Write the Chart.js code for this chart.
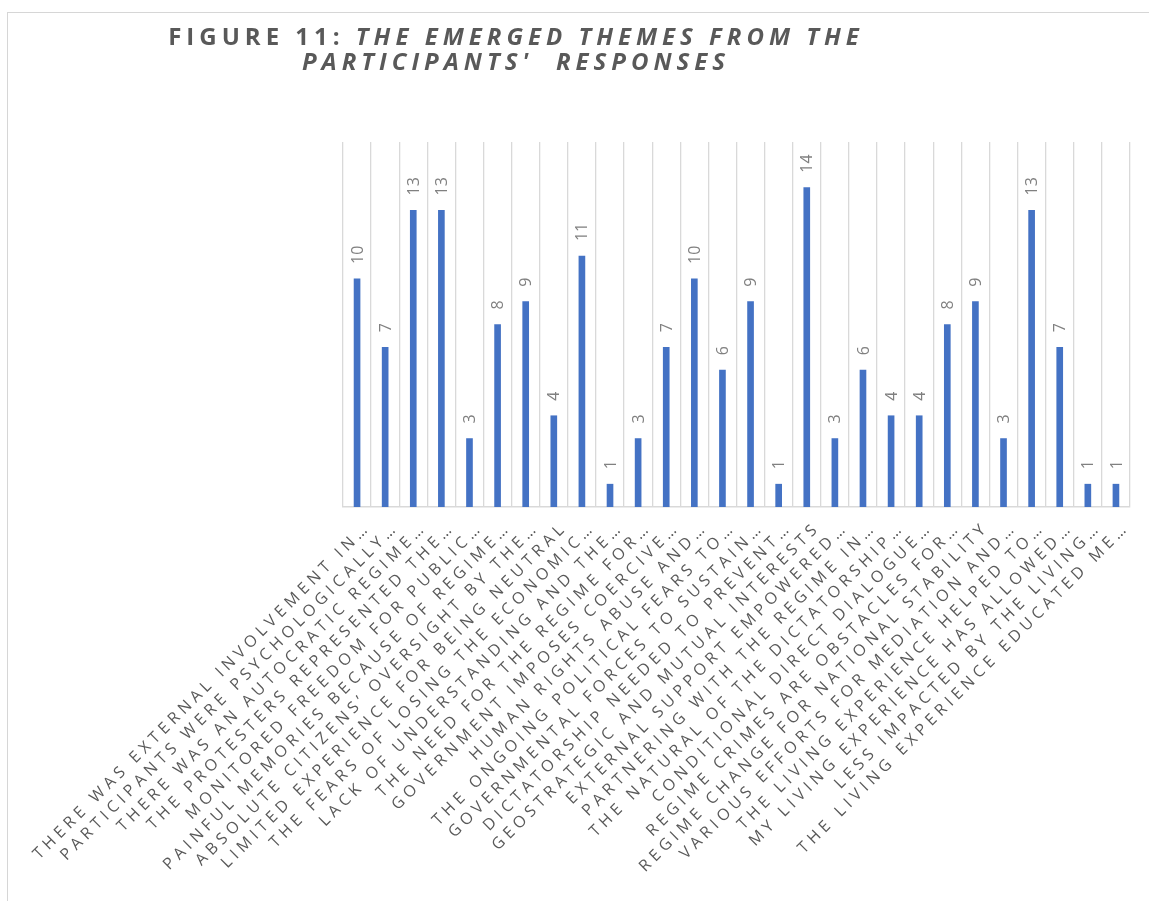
<!DOCTYPE html>
<html><head><meta charset="utf-8">
<script src="https://cdn.jsdelivr.net/npm/chart.js@4"></script>
<style>
html,body{margin:0;padding:0;background:#fff;}
#wrap{position:relative;width:1149px;height:901px;overflow:hidden;}
#frame{position:absolute;left:7px;top:12px;width:1200px;height:1000px;border-left:1.5px solid #d6d6d6;border-top:1.5px solid #d6d6d6;}
#title{position:absolute;left:0;top:23px;width:1032px;text-align:center;font-family:"Open Sans",sans-serif;font-weight:bold;font-size:24px;color:#595959;letter-spacing:5px;line-height:25px;white-space:pre;}
#title i{font-style:italic;}
canvas{position:absolute;left:0;top:0;}
</style></head>
<body>
<div id="wrap">
<div id="frame"></div>
<canvas id="c" width="1149" height="901"></canvas>
<div id="title">FIGURE 11: <i>THE EMERGED THEMES FROM THE</i>
<i>PARTICIPANTS'  RESPONSES</i></div>
</div>
<script>
const categories = [
  "THERE WAS EXTERNAL INVOLVEMENT IN…",
  "PARTICIPANTS WERE PSYCHOLOGICALLY…",
  "THERE WAS AN AUTOCRATIC REGIME…",
  "THE PROTESTERS REPRESENTED THE…",
  "MONITORED FREEDOM FOR PUBLIC…",
  "PAINFUL MEMORIES BECAUSE OF REGIME…",
  "ABSOLUTE CITIZENS’ OVERSIGHT BY THE…",
  "LIMITED EXPERIENCE FOR BEING NEUTRAL",
  "THE FEARS OF LOSING THE ECONOMIC…",
  "LACK OF UNDERSTANDING AND THE…",
  "THE NEED FOR THE REGIME FOR…",
  "GOVERNMENT IMPOSES COERCIVE…",
  "HUMAN RIGHTS ABUSE AND…",
  "THE ONGOING POLITICAL FEARS TO…",
  "GOVERNMENTAL FORCES TO SUSTAIN…",
  "DICTATORSHIP NEEDED TO PREVENT…",
  "GEOSTRATEGIC AND MUTUAL INTERESTS",
  "EXTERNAL SUPPORT EMPOWERED…",
  "PARTNERING WITH THE REGIME IN…",
  "THE NATURAL OF THE DICTATORSHIP…",
  "CONDITIONAL DIRECT DIALOGUE…",
  "REGIME CRIMES ARE OBSTACLES FOR…",
  "REGIME CHANGE FOR NATIONAL STABILITY",
  "VARIOUS EFFORTS FOR MEDIATION AND…",
  "THE LIVING EXPERIENCE HELPED TO…",
  "MY LIVING EXPERIENCE HAS ALLOWED…",
  "LESS IMPACTED BY THE LIVING…",
  "THE LIVING EXPERIENCE EDUCATED ME…"
];
const counts = [10,7,13,13,3,8,9,4,11,1,3,7,10,6,9,1,14,3,6,4,4,8,9,3,13,7,1,1];
const yMin = 0;
const yMax = 16;

const tickSpacing = {
  id: 'tickSpacing',
  beforeDraw(chart){ chart.ctx.letterSpacing = '4.6px'; },
  beforeDatasetsDraw(chart){ chart.ctx.letterSpacing = '0px'; }
};

const valueLabels = {
  id: 'valueLabels',
  afterDatasetsDraw(chart){
    const ctx = chart.ctx;
    const meta = chart.getDatasetMeta(0);
    ctx.save();
    ctx.letterSpacing = '0px';
    ctx.font = '16px "Open Sans"';
    ctx.fillStyle = '#808080';
    ctx.textAlign = 'left';
    ctx.textBaseline = 'middle';
    meta.data.forEach((bar, i) => {
      ctx.save();
      ctx.translate(bar.x + 1, bar.y - 15);
      ctx.rotate(-Math.PI / 2);
      ctx.fillText(String(counts[i]), 0, 0);
      ctx.restore();
    });
    ctx.restore();
  }
};

new Chart(document.getElementById('c'), {
  type: 'bar',
  data: {
    labels: categories,
    datasets: [{
      data: counts,
      backgroundColor: '#4472c4',
      barThickness: 6
    }]
  },
  options: {
    responsive: false,
    animation: false,
    layout: { padding: { left: 343, right: 19, top: 142, bottom: 0 } },
    plugins: { legend: { display: false }, tooltip: { enabled: false } },
    scales: {
      x: {
        grid: { offset: true, color: '#d9d9d9', lineWidth: 1.3, drawTicks: false },
        border: { color: '#d9d9d9', width: 1.5 },
        ticks: {
          autoSkip: false, minRotation: 45, maxRotation: 45,
          padding: 11, labelOffset: 11,
          color: '#595959',
          font: { family: 'Open Sans', size: 16 }
        },
        afterFit(s){ s.height = 901 - 507; s.paddingLeft = 0; s.paddingRight = 0; }
      },
      y: { display: false, min: yMin, max: yMax }
    }
  },
  plugins: [tickSpacing, valueLabels]
});
</script>
</body></html>
